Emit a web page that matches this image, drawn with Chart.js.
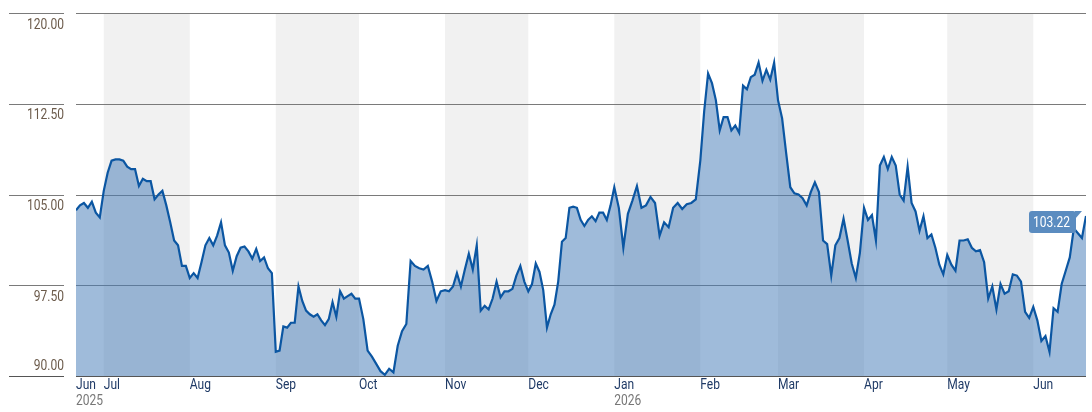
<!DOCTYPE html>
<html>
<head>
<meta charset="utf-8">
<script src="https://cdn.jsdelivr.net/npm/chart.js@4/dist/chart.umd.min.js"></script>
<style>
  html, body { margin: 0; padding: 0; background: #fff; }
  #wrap { width: 1092px; height: 412px; }
</style>
</head>
<body>
<div id="wrap"><canvas id="chart" width="1092" height="412"></canvas></div>
<script>
// month labels and prices per month (trading days)
const monthNames = ['Jun', 'Jul', 'Aug', 'Sep', 'Oct', 'Nov', 'Dec', 'Jan', 'Feb', 'Mar', 'Apr', 'May', 'Jun'];
const monthYears = ['2025', '', '', '', '', '', '', '2026', '', '', '', '', ''];
const yTicks = [90, 97.5, 105, 112.5, 120];

const jun25 = [103.7, 104.1, 104.3, 103.9, 104.4, 103.5, 103.1];
const jul25 = [105.3, 106.8, 107.8, 107.9, 107.9, 107.8, 107.3, 107.1, 107.1, 105.7, 106.3, 106.1, 106.1, 104.6, 105.0, 105.3, 104.1, 102.7, 101.2, 100.8, 99.1, 99.1];
const aug25 = [98.1, 98.5, 98.1, 99.4, 100.8, 101.4, 100.8, 101.6, 102.7, 100.8, 100.2, 98.7, 99.9, 100.6, 100.7, 100.3, 99.7, 100.5, 99.5, 99.8, 98.9, 98.5];
const sep25 = [92.0, 92.1, 94.1, 94.0, 94.4, 94.4, 97.4, 96.2, 95.4, 95.1, 94.9, 95.1, 94.6, 94.2, 94.7, 96.1, 94.9, 97.0, 96.4, 96.6, 96.8, 96.4];
const oct25 = [96.4, 94.7, 92.1, 91.6, 91.0, 90.4, 90.1, 90.6, 90.3, 92.5, 93.7, 94.3, 99.5, 99.1, 98.9, 98.8, 99.1, 97.8, 96.2, 97.0];
const nov25 = [97.1, 97.0, 97.4, 98.5, 97.4, 98.8, 100.1, 98.8, 100.8, 95.4, 95.8, 95.5, 96.4, 97.8, 96.5, 97.0, 97.0, 97.2, 98.3, 99.1, 97.8];
const dec25 = [97.0, 97.6, 99.3, 98.6, 97.1, 94.0, 95.1, 95.9, 97.8, 101.1, 101.4, 103.9, 104.0, 103.9, 102.9, 102.4, 102.9, 103.2, 102.8, 103.5, 103.5, 102.9, 104.1];
const jan26 = [105.6, 103.9, 100.6, 103.4, 104.5, 105.7, 103.9, 104.1, 104.8, 104.3, 101.6, 102.7, 102.3, 103.9, 104.3, 103.8, 104.2, 104.3, 104.6];
const feb26 = [107.8, 111.9, 115.0, 114.2, 112.8, 110.3, 111.4, 111.4, 110.3, 110.7, 110.1, 114.0, 113.7, 114.7, 114.9, 115.9, 114.4, 115.3, 114.5, 115.9];
const mar26 = [112.8, 111.3, 108.4, 105.6, 105.1, 105.0, 104.7, 104.1, 105.2, 106.0, 105.2, 101.2, 100.9, 98.3, 100.8, 101.4, 103.0, 101.2, 99.3, 98.1, 100.2];
const apr26 = [103.9, 102.9, 103.3, 101.2, 107.4, 108.1, 107.1, 108.1, 107.4, 105.0, 104.5, 107.3, 104.3, 103.6, 102.0, 103.2, 101.4, 101.7, 100.6, 99.2, 98.4];
const may26 = [100.0, 99.2, 98.7, 101.2, 101.2, 101.3, 100.6, 100.3, 100.4, 99.4, 96.4, 97.4, 95.5, 97.6, 96.8, 97.0, 98.4, 98.3, 97.8, 95.3, 94.8];
const jun26 = [95.7, 94.6, 92.9, 93.3, 92.0, 95.6, 95.3, 97.6, 98.7, 99.8, 102.2, 101.8, 101.4, 103.22];

const months = [jun25, jul25, aug25, sep25, oct25, nov25, dec25, jan26, feb26, mar26, apr26, may26, jun26];
const lastValue = '103.22';

// x axis in days since 1 Jul 2025
const DAY = 86400000;
const base = Date.UTC(2025, 6, 1);
const monthStart = (i) => (Date.UTC(2025, 5 + i, 1) - base) / DAY;
const xMin = (Date.UTC(2025, 5, 21) - base) / DAY;
const xMax = (Date.UTC(2026, 5, 20) - base) / DAY;

const points = [];
months.forEach((vals, i) => {
    const s = i === 0 ? xMin : monthStart(i);
    const e = i === months.length - 1 ? xMax : monthStart(i + 1);
    const step = (e - s) / (i === months.length - 1 ? vals.length - 1 : vals.length);
    vals.forEach((v, j) => points.push({ x: s + j * step, y: v }));
});

const FONT = '"Roboto", sans-serif';

function narrowText(ctx, text, px, py) {
    // condensed look: squeeze text horizontally
    ctx.save();
    ctx.translate(px, py);
    ctx.scale(0.86, 1);
    ctx.fillText(text, 0, 0);
    ctx.restore();
}

const decor = {
    id: 'decor',
    beforeDatasetsDraw(chart) {
        const { ctx, chartArea: a, scales: { x, y } } = chart;
        ctx.save();
        ctx.fillStyle = '#f1f1f1';
        for (let i = 1; i < months.length; i += 2) {
            const l = x.getPixelForValue(monthStart(i));
            const r = Math.min(x.getPixelForValue(monthStart(i + 1)), a.right);
            ctx.fillRect(l, a.top, r - l, a.bottom - a.top);
        }
        yTicks.forEach((t) => {
            const py = Math.round(y.getPixelForValue(t)) + 0.5;
            ctx.strokeStyle = t === 90 ? '#555' : '#7a7a7a';
            ctx.lineWidth = 1;
            ctx.beginPath();
            ctx.moveTo(9, py); ctx.lineTo(64, py);
            ctx.moveTo(76, py); ctx.lineTo(a.right, py);
            ctx.stroke();
        });
        ctx.restore();
    },
    afterDatasetsDraw(chart) {
        const { ctx, chartArea: a, scales: { x, y } } = chart;
        ctx.save();
        ctx.font = '14px ' + FONT;
        ctx.textAlign = 'right';
        ctx.fillStyle = '#6b5a4a';
        yTicks.forEach((t) => {
            const py = y.getPixelForValue(t);
            if (t === yTicks[0]) {
                ctx.textBaseline = 'bottom';
                narrowText(ctx, t.toFixed(2), 64, py - 3);
            } else {
                ctx.textBaseline = 'top';
                narrowText(ctx, t.toFixed(2), 64, py + 5);
            }
        });
        ctx.textAlign = 'left';
        ctx.textBaseline = 'top';
        monthNames.forEach((m, i) => {
            const px = i === 0 ? a.left : x.getPixelForValue(monthStart(i));
            ctx.fillStyle = '#1f3a66';
            narrowText(ctx, m, px, a.bottom + 2);
            if (monthYears[i]) {
                ctx.fillStyle = '#777';
                narrowText(ctx, monthYears[i], px, a.bottom + 18);
            }
        });
        // last value tag
        const last = points[points.length - 1];
        const py = y.getPixelForValue(last.y);
        const bx = 1029, bw = 47, bh = 22;
        const top = py - bh / 2 + 6;
        ctx.fillStyle = '#5b8cc0';
        ctx.beginPath();
        ctx.roundRect(bx, top, bw, bh, 3);
        ctx.fill();
        ctx.beginPath();
        ctx.moveTo(bx + bw - 1, top);
        ctx.lineTo(bx + bw + 6, top);
        ctx.lineTo(bx + bw - 1, top + 8);
        ctx.fill();
        ctx.fillStyle = '#fff';
        ctx.textAlign = 'center';
        ctx.textBaseline = 'middle';
        ctx.save();
        ctx.translate(bx + bw / 2 - 1, top + bh / 2 + 1);
        ctx.scale(0.86, 1);
        ctx.fillText(lastValue, 0, 0);
        ctx.restore();
        ctx.restore();
    }
};

new Chart(document.getElementById('chart'), {
    type: 'line',
    data: {
        datasets: [{
            data: points,
            borderColor: '#0b56a2',
            borderWidth: 2.2,
            backgroundColor: 'rgba(70,125,185,0.52)',
            fill: 'start',
            pointRadius: 0,
            tension: 0
        }]
    },
    options: {
        responsive: false,
        animation: false,
        layout: { padding: { left: 76, right: 6, top: 13, bottom: 36 } },
        plugins: { legend: { display: false }, tooltip: { enabled: false } },
        scales: {
            x: { type: 'linear', min: xMin, max: xMax, display: false },
            y: { min: 90, max: 120, display: false }
        }
    },
    plugins: [decor]
});
</script>
</body>
</html>
